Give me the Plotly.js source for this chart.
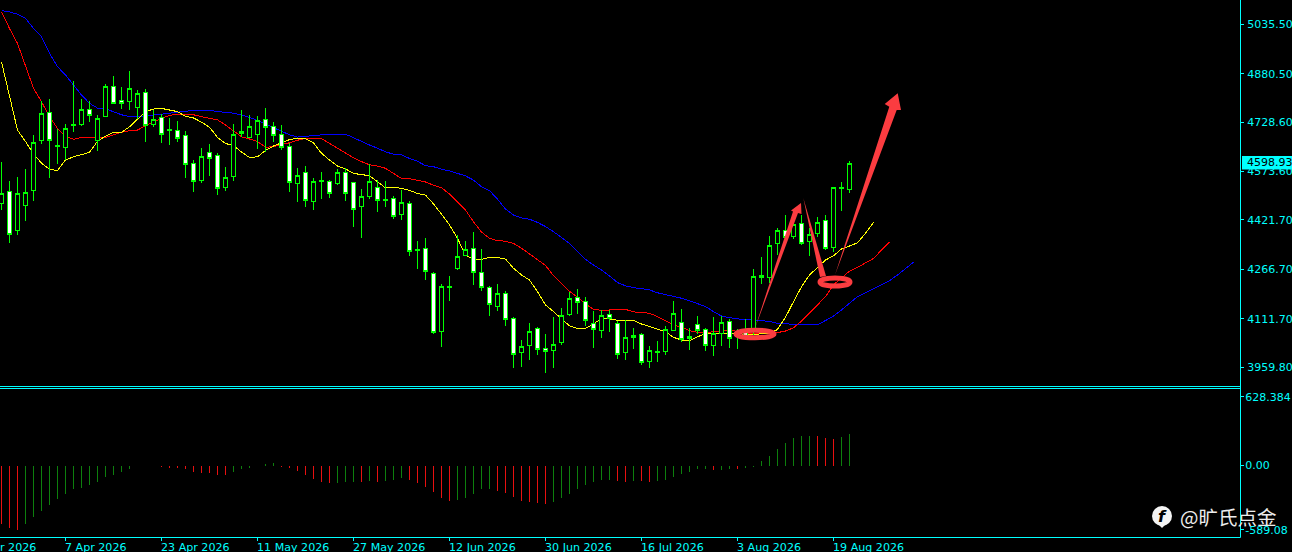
<!DOCTYPE html>
<html>
<head>
<meta charset="utf-8">
<script src="https://cdn.plot.ly/plotly-3.0.1.min.js"></script>
<style>
html, body { margin: 0; padding: 0; background: #000; overflow: hidden; }
.js-line, .boxes path, .bars path { shape-rendering: crispEdges; }
</style>
</head>
<body>
<div id="chart" style="width:1292px;height:552px"></div>
<script>
// daily candles
const opens = [4474,4512,4388,4467,4515,4671,4760,4652,4649,4718,
  4722,4769,4671,4747,4841,4797,4794,4775,4823,4722,
  4744,4702,4703,4687,4600,4545,4634,4625,4524,4559,
  4694,4681,4691,4738,4716,4691,4653,4537,4571,4480,
  4542,4543,4537,4571,4539,4465,4496,4524,4484,4490,
  4439,4474,4327,4333,4254,4072,4211,4270,4311,4333,
  4257,4210,4149,4191,4113,4005,4027,4081,4019,4012,
  4036,4125,4179,4166,4097,4075,4125,4097,4006,4053,
  4063,3978,4005,4009,4076,4100,4048,4094,4078,4027,
  4066,4103,4057,4071,4076,4248,4242,4348,4389,4369,
  4411,4355,4380,4421,4336,4520,4518];
const highs = [4603,4544,4557,4582,4689,4794,4802,4706,4722,4858,
  4802,4794,4750,4849,4874,4838,4889,4830,4832,4767,
  4753,4742,4732,4700,4610,4648,4659,4631,4588,4722,
  4767,4750,4747,4773,4729,4719,4662,4585,4591,4554,
  4572,4547,4582,4584,4540,4519,4596,4546,4544,4497,
  4516,4480,4356,4364,4257,4221,4246,4375,4356,4384,
  4331,4214,4221,4198,4117,4045,4098,4085,4064,4117,
  4145,4196,4205,4180,4136,4139,4139,4105,4108,4081,
  4066,4025,4042,4089,4167,4141,4081,4120,4081,4116,
  4120,4111,4079,4110,4268,4305,4371,4395,4437,4437,
  4437,4395,4431,4437,4526,4541,4607];
const lows = [4453,4350,4375,4418,4481,4660,4553,4597,4610,4698,
  4718,4728,4638,4746,4788,4770,4767,4738,4666,4714,
  4663,4657,4668,4553,4510,4538,4560,4500,4513,4544,
  4682,4678,4646,4634,4666,4641,4510,4478,4463,4453,
  4488,4492,4531,4481,4400,4366,4488,4448,4462,4425,
  4422,4309,4268,4233,4064,4023,4167,4265,4309,4218,
  4199,4120,4136,4089,3957,3960,3982,3998,3941,3957,
  4029,4120,4126,4089,4020,4051,4070,3985,3982,4017,
  3966,3957,3976,3998,4073,4039,4013,4064,4010,3995,
  4026,4020,4017,4047,4060,4221,4223,4312,4361,4362,
  4343,4310,4367,4327,4322,4450,4507];
const closes = [4505,4377,4505,4508,4665,4757,4672,4656,4709,4722,
  4769,4750,4741,4841,4788,4788,4835,4819,4718,4738,
  4691,4706,4678,4596,4543,4622,4615,4521,4556,4691,
  4700,4716,4735,4713,4687,4650,4540,4562,4483,4543,
  4546,4505,4571,4505,4455,4496,4543,4483,4487,4432,
  4477,4323,4330,4260,4069,4213,4214,4308,4330,4257,
  4210,4157,4191,4110,4000,4025,4072,4016,4009,4031,
  4122,4176,4163,4107,4078,4122,4113,4000,4053,4059,
  3973,4012,4009,4078,4129,4047,4056,4075,4028,4066,
  4100,4050,4071,4057,4245,4242,4342,4389,4367,4408,
  4348,4377,4414,4333,4524,4524,4598.93];

// moving average lines, these run past the last candle
const lips = [4918,4809,4704,4668,4629,4600,4581,4577,4610,4620,
  4628,4634,4669,4685,4697,4697,4714,4738,4762,4770,
  4772,4767,4762,4747,4742,4729,4713,4681,4662,4655,
  4635,4618,4620,4640,4654,4664,4674,4678,4677,4664,
  4631,4610,4591,4582,4568,4564,4561,4542,4522,4524,
  4521,4515,4505,4500,4472,4440,4406,4364,4311,4298,
  4298,4304,4304,4299,4270,4249,4233,4197,4155,4134,
  4113,4089,4081,4081,4095,4113,4111,4107,4107,4106,
  4095,4087,4078,4071,4053,4045,4043,4055,4064,4066,
  4066,4066,4064,4063,4063,4063,4065,4078,4116,4165,
  4212,4249,4273,4296,4309,4331,4340,4350,4380,4414];
const teeth = [5076,5023,4976,4908,4835,4793,4746,4709,4685,4675,
  4681,4681,4680,4681,4689,4697,4702,4704,4718,4730,
  4741,4750,4754,4752,4752,4746,4742,4736,4720,4701,
  4683,4676,4668,4650,4652,4659,4664,4672,4678,4678,
  4677,4662,4647,4631,4617,4605,4595,4591,4584,4568,
  4552,4551,4547,4541,4531,4523,4503,4479,4453,4416,
  4384,4364,4357,4355,4348,4333,4315,4298,4279,4247,
  4221,4198,4179,4158,4141,4138,4139,4141,4141,4133,
  4131,4129,4118,4106,4092,4085,4074,4069,4068,4071,
  4073,4076,4072,4066,4064,4064,4066,4068,4073,4083,
  4104,4129,4154,4181,4218,4238,4261,4273,4286,4301,
  4327,4352];
const jaw = [5079,5075,5068,5055,5023,4997,4945,4903,4877,4846,
  4814,4788,4773,4771,4761,4752,4746,4746,4748,4751,
  4754,4757,4760,4761,4766,4766,4766,4762,4760,4757,
  4751,4744,4734,4723,4713,4700,4689,4682,4684,4688,
  4688,4691,4691,4691,4680,4668,4657,4647,4636,4628,
  4626,4615,4606,4592,4589,4581,4576,4568,4560,4547,
  4526,4514,4487,4456,4437,4428,4424,4414,4401,4385,
  4367,4348,4322,4298,4280,4265,4246,4225,4215,4209,
  4206,4202,4193,4187,4183,4176,4168,4160,4150,4134,
  4120,4115,4111,4108,4108,4106,4103,4097,4095,4093,
  4093,4092,4092,4106,4120,4139,4160,4181,4193,4206,
  4219,4231,4249,4270,4289];

// lower pane
const hist = [-535,-569,-590,-535,-471,-416,-361,-307,-261,-215,
  -206,-178,-151,-105,-87,-59,-32,0,0,0,
  -8,-26,-26,-35,-59,-69,-69,-87,-87,-59,
  -32,-14,0,14,23,-5,-14,-50,-87,-124,
  -151,-160,-160,-151,-151,-151,-142,-151,-142,-133,
  -114,-133,-160,-197,-242,-297,-325,-316,-297,-261,
  -215,-215,-233,-252,-288,-325,-334,-343,-352,-334,
  -297,-261,-215,-178,-151,-133,-133,-142,-151,-142,
  -142,-151,-142,-133,-105,-78,-59,-32,-32,-41,
  -41,-32,-32,-14,-5,41,87,151,206,252,
  270,270,270,252,242,261,288];
const histUp = [0,0,0,1,1,1,1,1,1,1,
  1,1,1,1,1,1,1,1,1,1,
  0,0,0,0,0,0,0,0,0,1,
  1,1,1,1,1,0,0,0,0,0,
  0,0,1,1,1,0,1,0,1,1,
  1,0,0,0,0,0,0,1,1,1,
  1,1,0,0,0,0,0,0,0,1,
  1,1,1,1,1,1,1,0,0,1,
  0,0,1,1,1,1,1,1,1,0,
  1,1,0,1,1,1,1,1,1,1,
  1,1,0,0,0,1,1];

// axis labels
const tickIdx = [-4, 8, 20, 32, 44, 56, 68, 80, 92, 104];
const tickDates = ['20 Mar 2026', '7 Apr 2026', '23 Apr 2026', '11 May 2026', '27 May 2026',
  '12 Jun 2026', '30 Jun 2026', '16 Jul 2026', '3 Aug 2026', '19 Aug 2026'];
const priceTicks = [5035.5, 4880.5, 4728.6, 4573.6, 4421.7, 4266.7, 4111.7, 3959.8];
const priceLabels = ['5035.50', '4880.50', '4728.60', '4573.60', '4421.70', '4266.70', '4111.70', '3959.80'];
const histTicks = [628.384, 0, -589.08];
const histLabels = ['628.384', '0.00', '-589.08'];
const lastPrice = '4598.93';

const CYAN = '#00ffff';
const ARROW_RED = '#fb3c40';
const PLOT_W = 1240, PLOT_H = 537;
const px = x => x / PLOT_W;
const py = y => 1 - y / PLOT_H;
const barPx = i => 1.5 + 8 * i;
const idx = arr => arr.map((_, i) => i);
const poly = pts => 'M' + pts.map(p => px(p[0]) + ',' + py(p[1])).join('L') + 'Z';

function maLine(vals, color) {
  return { type: 'scatter', mode: 'lines', x: idx(vals), y: vals, xaxis: 'x', yaxis: 'y',
    line: { color: color, width: 1 }, hoverinfo: 'skip' };
}

const traces = [
  maLine(jaw, '#0000ff'),
  maLine(teeth, '#ff0000'),
  maLine(lips, '#ffff00'),
  { type: 'candlestick', x: idx(opens), open: opens, high: highs, low: lows, close: closes,
    xaxis: 'x', yaxis: 'y', whiskerwidth: 0, zorder: 1, hoverinfo: 'skip',
    increasing: { line: { color: '#00ff00', width: 1 }, fillcolor: '#000000' },
    decreasing: { line: { color: '#00ff00', width: 1 }, fillcolor: '#ffffff' } },
  { type: 'bar', x: idx(hist), y: hist, xaxis: 'x2', yaxis: 'y2', width: 0.125, hoverinfo: 'skip',
    marker: { color: histUp.map(u => u ? '#0d7f0d' : '#e81010'), line: { width: 0 } } }
];

const redShape = (path) => ({ type: 'path', xref: 'paper', yref: 'paper', layer: 'above', path: path,
  fillcolor: ARROW_RED, line: { width: 0 } });
const ring = (cx, cy, rx, ry, w) => ({ type: 'circle', xref: 'paper', yref: 'paper', layer: 'above',
  x0: px(cx - rx), x1: px(cx + rx), y0: py(cy - ry), y1: py(cy + ry),
  line: { color: ARROW_RED, width: w } });
const frameLine = (x0, y0, x1, y1) => ({ type: 'line', xref: 'paper', yref: 'paper', layer: 'above',
  x0: px(x0), y0: py(y0), x1: px(x1), y1: py(y1), line: { color: CYAN, width: 1 } });

const shapes = [
  // pane frame, the axis lines do not show here
  frameLine(1240.5, 0, 1240.5, 537.5),
  frameLine(0, 386.5, 1240.5, 386.5),
  frameLine(0, 388.5, 1240.5, 388.5),
  frameLine(0, 537.5, 1240.5, 537.5),
  // hand drawn arrows
  redShape(poly([[755, 328], [793, 211.5], [791, 210.5], [801, 203], [801.5, 214], [798, 213]])),
  redShape(poly([[803.3, 198], [820, 277], [826, 276]])),
  redShape(poly([[835, 275], [889.3, 106.7], [884.7, 104], [897.7, 93.3], [901, 110], [896.7, 110]])),
  ring(755, 334, 19, 3.8, 5),
  ring(835, 282, 15, 4, 5),
  // current price box
  { type: 'rect', xref: 'paper', yref: 'paper', layer: 'above', x0: px(1242), x1: px(1292), y0: py(156), y1: py(169.5),
    fillcolor: CYAN, line: { width: 0 } },
  // watermark icon
  { type: 'circle', xref: 'paper', yref: 'paper', layer: 'above', x0: px(1152), x1: px(1172), y0: py(506), y1: py(526),
    fillcolor: '#f4f4f4', line: { width: 0 } },
  { type: 'path', xref: 'paper', yref: 'paper', layer: 'above', fillcolor: '#f4f4f4', line: { width: 0 },
    path: poly([[1158, 524], [1162, 528], [1166, 524]]) }
];
// date ticks
tickIdx.filter(t => t >= 0).forEach(t => {
  shapes.push(frameLine(barPx(t), 537.5, barPx(t), 541));
});

const annotations = tickIdx.map((t, i) => ({
  xref: 'paper', yref: 'paper', x: px(barPx(t) - (t < 0 ? 5 : 2)), y: py(547.5), xanchor: 'left', yanchor: 'middle',
  text: tickDates[i], showarrow: false, borderpad: 0, font: { family: 'DejaVu Sans', size: 11.1, color: CYAN }
}));
annotations.push(
  { xref: 'paper', yref: 'paper', x: px(1246), y: py(163), xanchor: 'left', yanchor: 'middle', text: lastPrice,
    showarrow: false, borderpad: 0, font: { family: 'DejaVu Sans', size: 11, color: '#000000' } },
  { xref: 'paper', yref: 'paper', x: px(1162), y: py(516.5), xanchor: 'center', yanchor: 'middle', text: '<b><i>f</i></b>',
    showarrow: false, borderpad: 0, font: { family: 'DejaVu Sans', size: 16, color: '#000000' } },
  { xref: 'paper', yref: 'paper', x: px(1179), y: py(516), xanchor: 'left', yanchor: 'middle', text: '@旷氏点金',
    showarrow: false, borderpad: 0, font: { family: 'Noto Sans CJK SC', size: 19.5, color: '#ececec' } }
);

const xBase = { range: [-0.1875, 154.8125], showgrid: false, zeroline: false, showline: false };
const yBase = {
  side: 'right', showgrid: false, zeroline: false, showline: false,
  ticks: 'outside', ticklen: 3, tickwidth: 1, tickcolor: CYAN, tickmode: 'array',
  tickfont: { family: 'DejaVu Sans', size: 11, color: CYAN }
};

const layout = {
  width: 1292, height: 552, autosize: false,
  margin: { l: 0, r: 52, t: 0, b: 15, pad: 0 },
  paper_bgcolor: '#000000', plot_bgcolor: '#000000',
  showlegend: false, hovermode: false, dragmode: false,
  boxgap: 0.5, boxgroupgap: 0,
  xaxis: Object.assign({}, xBase, { anchor: 'y', showticklabels: false, ticks: '', rangeslider: { visible: false } }),
  xaxis2: Object.assign({}, xBase, { anchor: 'y2', showticklabels: false, ticks: '' }),
  yaxis: Object.assign({}, yBase, { anchor: 'x', domain: [1 - 386.5 / PLOT_H, 1], range: [3898.8, 5112.4],
    ticklabelstandoff: 1, tickvals: priceTicks, ticktext: priceLabels }),
  yaxis2: Object.assign({}, yBase, { anchor: 'x2', domain: [0, 1 - 388.5 / PLOT_H], range: [-654.2, 704.6],
    ticklabelstandoff: -1, tickvals: histTicks, ticktext: histLabels }),
  shapes: shapes,
  annotations: annotations
};

Plotly.newPlot('chart', traces, layout, { displayModeBar: false });
</script>
</body>
</html>
